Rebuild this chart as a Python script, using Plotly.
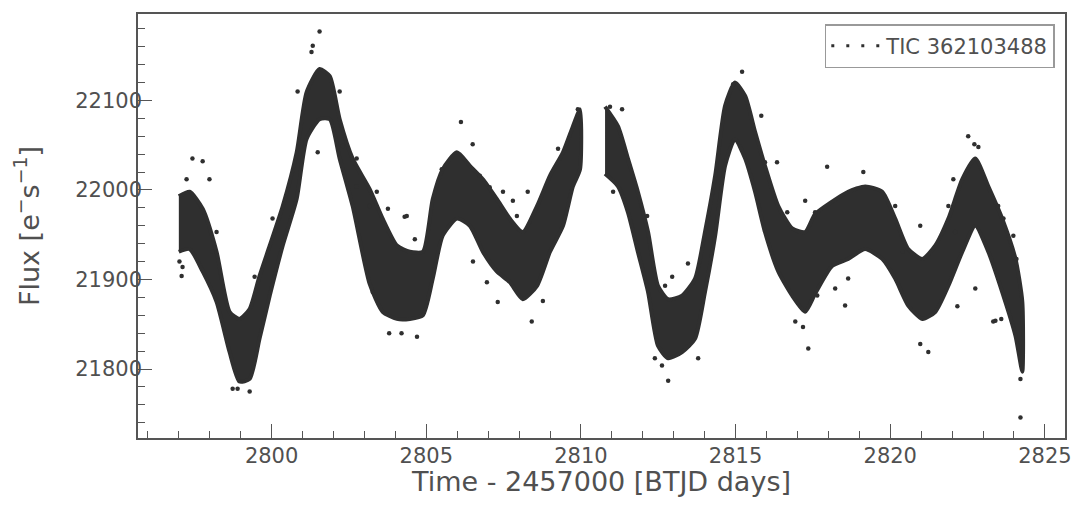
import plotly.graph_objects as go

# ---- data (BTJD days, flux e-/s) ----
# envelope of the dense point cloud, orbit 1
t1 = [2797.0, 2797.35, 2797.77, 2798.22, 2798.64, 2798.96, 2799.29, 2799.61, 2799.94,
      2800.36, 2800.81, 2801.13, 2801.55, 2801.88, 2802.20, 2802.62, 2803.17, 2803.59,
      2804.05, 2804.47, 2804.89, 2805.21, 2805.53, 2805.99, 2806.41, 2806.83, 2807.28,
      2807.70, 2808.12, 2808.58, 2809.00, 2809.42, 2809.74, 2809.97]
upper1 = [21993, 21998, 21979, 21931, 21864, 21856, 21867, 21904, 21938,
          21982, 22042, 22109, 22135, 22127, 22079, 22035, 22001, 21968,
          21938, 21931, 21931, 21990, 22023, 22042, 22027, 22012, 21990,
          21968, 21953, 21982, 22016, 22042, 22071, 22090]
lower1 = [21931, 21934, 21909, 21875, 21819, 21786, 21789, 21834, 21882,
          21938, 21990, 22057, 22079, 22079, 22035, 21982, 21895, 21864,
          21856, 21856, 21860, 21901, 21949, 21968, 21960, 21931, 21909,
          21897, 21878, 21893, 21931, 21960, 22004, 22023]

# envelope, orbit 2
t2 = [2810.78, 2811.20, 2811.52, 2811.84, 2812.17, 2812.49, 2812.82, 2813.27, 2813.69,
      2814.01, 2814.34, 2814.66, 2814.98, 2815.31, 2815.63, 2815.95, 2816.38, 2816.83,
      2817.25, 2817.57, 2818.12, 2818.64, 2819.19, 2819.74, 2820.16, 2820.58, 2821.04,
      2821.46, 2821.88, 2822.33, 2822.75, 2823.17, 2823.62, 2824.05, 2824.27]
upper2 = [22093, 22071, 22035, 21998, 21953, 21893, 21878, 21882, 21901,
          21953, 22016, 22094, 22120, 22105, 22065, 22027, 21982, 21957,
          21953, 21973, 21987, 21998, 22004, 21998, 21968, 21934, 21923,
          21938, 21968, 22012, 22035, 22004, 21968, 21923, 21875]
lower2 = [22018, 22004, 21975, 21931, 21886, 21826, 21812, 21819, 21834,
          21886, 21949, 22027, 22057, 22035, 21998, 21953, 21909, 21882,
          21864, 21884, 21915, 21923, 21934, 21923, 21901, 21871, 21856,
          21864, 21893, 21931, 21960, 21931, 21886, 21837, 21797]

# individual scattered points standing out of / along the edge of the cloud
out_t = [2801.55, 2801.33, 2801.29, 2800.84, 2801.49, 2797.44, 2797.77, 2797.25, 2797.99,
         2797.09, 2797.12, 2798.74, 2798.90, 2799.29, 2799.45, 2803.27, 2802.20, 2802.75,
         2806.12, 2806.50, 2803.40, 2804.30, 2803.80, 2804.20, 2804.70, 2808.41, 2807.31,
         2808.28, 2809.26, 2809.90, 2808.77, 2805.50,
         2810.94, 2811.33, 2815.21, 2814.92, 2815.83, 2816.34, 2817.25, 2817.57, 2817.35,
         2812.82, 2812.39, 2812.62, 2813.79, 2812.95, 2813.46, 2811.04, 2812.14, 2816.93,
         2817.18, 2817.96, 2819.13, 2818.54, 2820.97, 2822.52, 2822.72, 2822.85, 2821.23,
         2820.97, 2822.75, 2823.40, 2824.21, 2823.98, 2822.17, 2822.04, 2824.21,
         2806.73, 2807.05, 2807.48, 2807.80, 2807.93, 2803.76, 2804.37, 2804.63, 2806.51,
         2806.96, 2815.95, 2816.67, 2812.72, 2818.64, 2818.22, 2817.64, 2820.39, 2820.16,
         2821.88, 2822.10, 2823.49, 2823.66, 2823.98, 2824.08, 2823.33, 2823.59, 2797.02,
         2798.09, 2798.22, 2800.03, 2802.30, 2802.75, 2803.17]
out_f = [22177, 22161, 22154, 22110, 22042, 22035, 22032, 22012, 22012,
         21904, 21914, 21778, 21778, 21775, 21903, 21886, 22110, 22035,
         22076, 22051, 21998, 21970, 21840, 21840, 21836, 21853, 21875,
         21998, 22046, 22090, 21876, 22023,
         22093, 22090, 22132, 22118, 22083, 22031, 21988, 21975, 21823,
         21787, 21812, 21804, 21812, 21903, 21918, 21998, 21971, 21853,
         21847, 22026, 22020, 21871, 21960, 22060, 22051, 22048, 21819,
         21828, 21890, 21854, 21789, 21925, 21870, 22012, 21746,
         22016, 22003, 21998, 21988, 21971, 21979, 21971, 21945, 21920,
         21897, 22031, 21975, 21893, 21901, 21890, 21882, 21931, 21982,
         21982, 21953, 21982, 21968, 21949, 21923, 21853, 21856, 21920,
         21931, 21953, 21968, 22049, 22004, 21982]

series_name = "TIC 362103488"
x_ticks = [2800, 2805, 2810, 2815, 2820, 2825]
y_ticks = [21800, 21900, 22000, 22100]

# ---- figure ----
DOT = "#2f2f2f"
TXT = "#505050"
AX = "#555555"

fig = go.Figure()

for tt, up, lo in ((t1, upper1, lower1), (t2, upper2, lower2)):
    fig.add_trace(go.Scatter(
        x=tt + tt[::-1], y=up + lo[::-1],
        mode="lines", fill="toself", fillcolor=DOT,
        line=dict(color=DOT, width=4, shape="spline", smoothing=0.6),
        hoverinfo="skip", showlegend=False))

fig.add_trace(go.Scatter(
    x=out_t, y=out_f, mode="markers",
    marker=dict(color=DOT, size=4.5), showlegend=False, name=series_name))

# legend entry (dotted sample like matplotlib's '.' marker legend)
fig.add_trace(go.Scatter(
    x=[None], y=[None], mode="lines", name=series_name,
    line=dict(color=DOT, width=3, dash="3px,12px"), showlegend=True))

# the page body has an 8px margin, so the figure is offset by 8px
fig.update_layout(
    width=1071, height=489,
    margin=dict(l=130, r=14, t=6, b=59, autoexpand=False),
    paper_bgcolor="white", plot_bgcolor="white",
    font=dict(family="DejaVu Sans", color=TXT, size=21),
    legend=dict(x=0.989, y=0.976, xanchor="right", yanchor="top",
                bgcolor="white", bordercolor="#999999", borderwidth=1.5,
                font=dict(size=21, color=TXT), itemwidth=50),
)

fig.update_xaxes(
    range=[2795.68, 2825.65], tickvals=x_ticks, ticktext=[str(v) for v in x_ticks],
    ticks="inside", ticklen=14, tickwidth=1.3, tickcolor=AX,
    minor=dict(ticks="inside", ticklen=7, dtick=1, tick0=2800, tickcolor=AX, tickwidth=1),
    showline=True, linecolor=AX, linewidth=1.5, mirror=True, automargin=False,
    showgrid=False, zeroline=False, tickfont=dict(size=21, color=TXT), ticklabelstandoff=-2,
    ticklabeloverflow="allow",
    title=dict(text="Time - 2457000 [BTJD days]", font=dict(size=27, color=TXT), standoff=14),
)
fig.update_yaxes(
    range=[21723, 22196.5], tickvals=y_ticks, ticktext=[str(v) for v in y_ticks],
    ticks="inside", ticklen=14, tickwidth=1.3, tickcolor=AX,
    minor=dict(ticks="inside", ticklen=7, dtick=20, tick0=21800, tickcolor=AX, tickwidth=1),
    showline=True, linecolor=AX, linewidth=1.5, mirror=True, automargin=False,
    showgrid=False, zeroline=False, tickfont=dict(size=21, color=TXT), ticklabelstandoff=-10,
    title=dict(text="Flux [e<sup>−</sup>s<sup>−1</sup>]", font=dict(size=27, color=TXT), standoff=28),
)

fig.write_html("out.html")
